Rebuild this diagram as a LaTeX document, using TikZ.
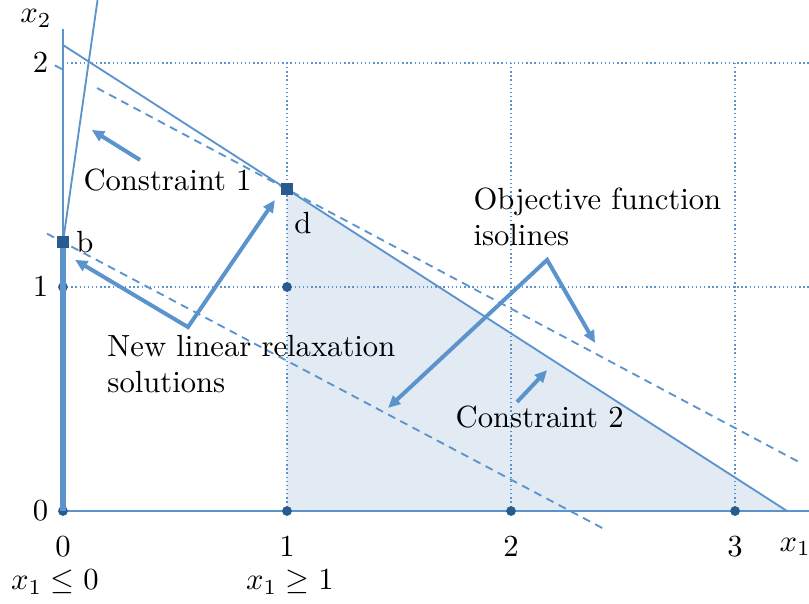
\documentclass[tikz,border=0pt]{standalone}
\usepackage{amsmath, amssymb}
\usepackage{tikz}
\usetikzlibrary{arrows.meta}
\definecolor{lineblue}{HTML}{5B93CC}
\definecolor{dotblue}{HTML}{2A5B8E}
\definecolor{regionfill}{HTML}{E2EAF4}
\tikzset{
    lattice/.style={circle, fill=dotblue, inner sep=0pt, minimum size=3.2pt},
    relaxsol/.style={rectangle, fill=dotblue, inner sep=0pt, minimum size=4pt},
    gridline/.style={lineblue, line width=0.45pt, dash pattern=on 0.45pt off 0.9pt},
    cline/.style={lineblue, line width=0.6pt},
    isoline/.style={lineblue, line width=0.6pt, dash pattern=on 2.6pt off 1.9pt},
    pointer/.style={lineblue, line width=1.3pt, -{Triangle[length=4pt, width=3.6pt]}},
    forkpointer/.style={lineblue, line width=1.3pt, {Triangle[length=4pt, width=3.6pt]}-{Triangle[length=4pt, width=3.6pt]}},
    graphlabel/.style={align=left, inner sep=0pt, anchor=west}
}

\begin{document}
\begin{tikzpicture}[x=2.57cm, y=2.57cm]
        \useasboundingbox (-0.281,-0.411) rectangle (3.330,2.281);

        \coordinate (o) at (0,0);
        \coordinate (b) at (0,1.2);
        \coordinate (d) at (1,1.437);
        \coordinate (c2top) at (0,2.08);
        \coordinate (c2end) at (3.232,0);
        \coordinate (c1top) at (0.155,2.285);
        \coordinate (x2top) at (0,2.15);
        \coordinate (x1end) at (3.33,0);

        % region left after branching on x_1 >= 1
        \fill[regionfill] (1,0) -- (c2end) -- (d) -- cycle;

        \draw[gridline] (0,1) -- (3.33,1);
        \draw[gridline] (0,2) -- (3.33,2);
        \foreach \i in {1,2,3}
            \draw[gridline] (\i,0) -- (\i,2);

        % objective function isolines
        \draw[isoline] (-0.036,1.989) -- (0,1.970);
        \draw[isoline] (0.152,1.888) -- (3.29,0.216);
        \draw[isoline] (-0.071,1.238) -- (2.415,-0.080);

        \draw[cline] (c2top) -- (c2end);
        \draw[cline] (b) -- (c1top);
        \draw[cline] (o) -- (x2top);
        \draw[cline] (o) -- (x1end);

        \foreach \px/\py in {0/0, 0/1, 1/0, 1/1, 2/0, 3/0}
            \node[lattice] (p\px\py) at (\px,\py) {};
        \draw[lineblue, line width=2pt] (o) -- (b);

        \node[relaxsol, label={[inner sep=2pt]right:b}] (bsq) at (b) {};
        \node[relaxsol, label={[inner sep=1pt, yshift=-4pt, xshift=-1pt]below right:d}] (dsq) at (d) {};

        % axes labels
        \node (y0) at (-0.1,0) {$0$};
        \node (y1) at (-0.1,1) {$1$};
        \node (y2) at (-0.1,2) {$2$};
        \node (x2lbl) at (-0.12,2.2) {$x_2$};
        \node (x0) at (0,-0.161) {$0$};
        \node (x1) at (1,-0.161) {$1$};
        \node (x2) at (2,-0.161) {$2$};
        \node (x3) at (3,-0.161) {$3$};
        \node (x1lbl) at (3.268,-0.161) {$x_1$};
        \node (left) at (-0.036,-0.317) {$x_1 \leq 0$};
        \node (right) at (1.013,-0.317) {$x_1 \geq 1$};

        \node[graphlabel] (c1lbl) at (0.089,1.478) {Constraint 1};
        \node[graphlabel] (objlbl) at (1.830,1.3125) {Objective function\\isolines};
        \node[graphlabel] (newlbl) at (0.196,0.656) {New linear relaxation\\solutions};
        \node[graphlabel] (c2lbl) at (1.75,0.42) {Constraint 2};

        \coordinate (c1from) at (0.344,1.567);
        \coordinate (c1to) at (0.129,1.701);
        \coordinate (c2from) at (2.027,0.487);
        \coordinate (c2to) at (2.161,0.629);
        \coordinate (objv) at (2.161,1.121);
        \coordinate (objA) at (1.451,0.460);
        \coordinate (objB) at (2.375,0.750);
        \coordinate (newv) at (0.558,0.821);
        \coordinate (newA) at (0.054,1.121);
        \coordinate (newB) at (0.946,1.388);

        \draw[pointer] (c1from) -- (c1to);
        \draw[pointer] (c2from) -- (c2to);
        \draw[forkpointer] (objA) -- (objv) -- (objB);
        \draw[forkpointer] (newA) -- (newv) -- (newB);
    \end{tikzpicture}
\end{document}
